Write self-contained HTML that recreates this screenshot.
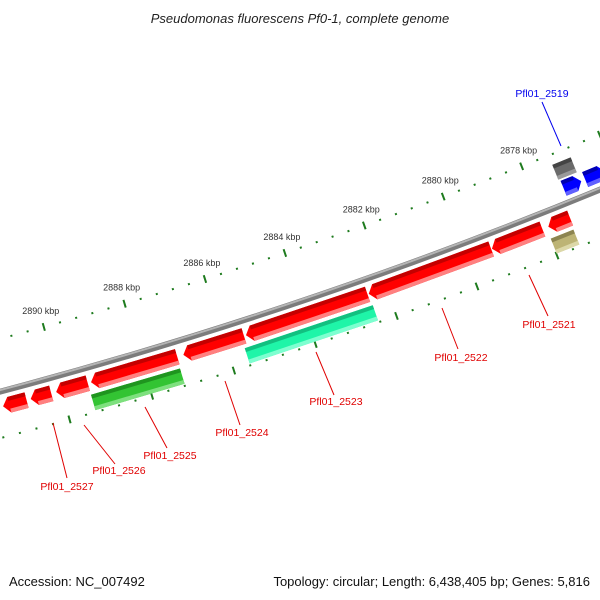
<!DOCTYPE html>
<html><head><meta charset="utf-8"><style>
html,body{margin:0;padding:0;background:#fff;}
svg{display:block;font-family:"Liberation Sans",sans-serif;}
</style></head><body>
<svg id="map" width="600" height="600" viewBox="0 0 600 600" xmlns="http://www.w3.org/2000/svg">
<text x="300" y="23" text-anchor="middle" font-size="13" font-style="italic" fill="#222">Pseudomonas fluorescens Pf0-1, complete genome</text>
<g id="ticks"></g>
<g id="backbone"></g>
<g id="genes"></g>
<g id="labels"></g>
<text x="9" y="586" font-size="13" fill="#111">Accession: NC_007492</text>
<text x="590" y="586" text-anchor="end" font-size="13" fill="#111">Topology: circular; Length: 6,438,405 bp; Genes: 5,816</text>
</svg>
<script>
// data arrays
const tickLabelKbp = [2878, 2880, 2882, 2884, 2886, 2888, 2890];
const geneNames = ["g1","Pfl01_2527","Pfl01_2526","g4","Pfl01_2525b","Pfl01_2524","Pfl01_2522b","Pfl01_2522","Pfl01_2521","g10","Pfl01_2525","Pfl01_2523","g13","g14","g15","Pfl01_2519"];
const geneStart = [2890.85,2890.25,2889.36,2887.17,2885.53,2882.47,2879.38,2878.09,2877.39,2887.19,2882.44,2877.42,2876.82,2876.2,2876.84,2885.53];
const geneEnd   = [2891.42,2890.75,2890.13,2889.28,2887.02,2885.48,2882.44,2879.36,2877.94,2889.36,2885.6,2877.99,2877.27,2876.72,2877.31,2885.53];
const geneLane  = [1,1,1,1,1,1,1,1,1,2,2,2,-1,-1,-2,0];
const geneColor = ["red","red","red","red","red","red","red","red","red","green","teal","khaki","blue","blue","gray","none"];
const geneArrow = [1,1,1,1,1,1,1,1,1,0,0,0,-1,-1,0,0];

const NS="http://www.w3.org/2000/svg";
const cx=-1231.5, cy=-4258, R=4810;
function ang(p){return (71.42+(p-2884)*0.506)*Math.PI/180;}
function P(p,r){const t=ang(p);return [cx+r*Math.cos(t), cy+r*Math.sin(t)];}
function pts(a){return a.map(q=>q[0].toFixed(2)+","+q[1].toFixed(2)).join(" ");}
function el(tag,attrs,parent){const e=document.createElementNS(NS,tag);for(const k in attrs)e.setAttribute(k,attrs[k]);parent.appendChild(e);return e;}

// backbone
const bb=document.getElementById('backbone');
const a=P(2894,R), b=P(2874,R);
const bp=el('path',{d:`M${a[0]},${a[1]} A${R},${R} 0 0 0 ${b[0]},${b[1]}`,stroke:'#7c7c7c','stroke-width':6,fill:'none'},bb);


const a2=P(2894,R-1.5), b2=P(2874,R-1.5);
const hl=el('path',{d:`M${a2[0]},${a2[1]} A${R-1.5},${R-1.5} 0 0 0 ${b2[0]},${b2[1]}`,stroke:'#b4b4b4','stroke-width':2,fill:'none'},bb);



// ticks
const tg=document.getElementById('ticks');
[R-51, R+45].forEach(function(rr){
  for(let i=0;i<=55;i++){
    const p=2872+i*0.4;
    const major=(i%5===0);
    const d=major?4:1;
    const p1=P(p,rr-d), p2=P(p,rr+d);
    const t=el('line',{x1:p1[0],y1:p1[1],x2:p2[0],y2:p2[1],stroke:'#1e7b1e','stroke-width':2},tg);
    
    
  }
});
tickLabelKbp.forEach(function(k){
  const q=P(k,R-51);
  const t=el('text',{x:q[0]-3,y:q[1]-13,'text-anchor':'middle','font-size':9,fill:'#333'},tg);
  t.textContent=k+" kbp";
  
  
});

// genes
const colors={red:['#ff0000','#c40000','#ff8080'],green:['#33c433','#1f951f','#7ee07e'],teal:['#1ff5a8','#12c080','#7effd0'],khaki:['#bdb475','#8c8450','#dcd8a8'],blue:['#0000ff','#0000b0','#6060ff'],gray:['#6a6a6a','#444','#9a9a9a']};
const laneR={1:[R+7,R+23],2:[R+27,R+43],'-1':[R-23,R-7],'-2':[R-41,R-25]};
const gg=document.getElementById('genes');
geneNames.forEach(function(n,i){
  if(geneColor[i]==='none')return;
  const c=colors[geneColor[i]], lr=laneR[geneLane[i]], r0=lr[0], r1=lr[1], rm=(r0+r1)/2;
  const s=geneStart[i], e=geneEnd[i], h=Math.min(0.15,(e-s)*0.45);
  let body0=s, body1=e, poly;
  if(geneArrow[i]===1){body1=e-h; poly=[P(s,r0),P(body1,r0),P(e,rm),P(body1,r1),P(s,r1)];}
  else if(geneArrow[i]===-1){body0=s+h; poly=[P(body0,r0),P(e,r0),P(e,r1),P(body0,r1),P(s,rm)];}
  else poly=[P(s,r0),P(e,r0),P(e,r1),P(s,r1)];
  const g=el('g',{},gg);
  
  
  el('polygon',{points:pts(poly),fill:c[0]},g);
  el('polygon',{points:pts([P(body0,r0),P(body1,r0),P(body1,r0+4),P(body0,r0+4)]),fill:c[1]},g);
  el('polygon',{points:pts([P(body0,r1-4),P(body1,r1-4),P(body1,r1),P(body0,r1)]),fill:c[2]},g);
});

// gene labels (layout positions)
const lab=[
 ["Pfl01_2527",53,423,67,478,67,490,"#e00000"],
 ["Pfl01_2526",84,425,115,464,119,474,"#e00000"],
 ["Pfl01_2525",145,407,167,448,170,459,"#e00000"],
 ["Pfl01_2524",225,381,240,425,242,436,"#e00000"],
 ["Pfl01_2523",316,352,334,395,336,405,"#e00000"],
 ["Pfl01_2522",442,308,458,349,461,361,"#e00000"],
 ["Pfl01_2521",529,275,548,316,549,328,"#e00000"],
 ["Pfl01_2519",542,102,561,146,542,97,"#0000ee"]
];
const lg=document.getElementById('labels');
lab.forEach(function(L){
  const ln=el('line',{x1:L[1],y1:L[2],x2:L[3],y2:L[4],stroke:L[7],'stroke-width':1},lg);
  
  
  const t=el('text',{x:L[5],y:L[6],'text-anchor':'middle','font-size':10.5,fill:L[7]},lg);
  t.textContent=L[0];
  
  
});
</script>
</body></html>
